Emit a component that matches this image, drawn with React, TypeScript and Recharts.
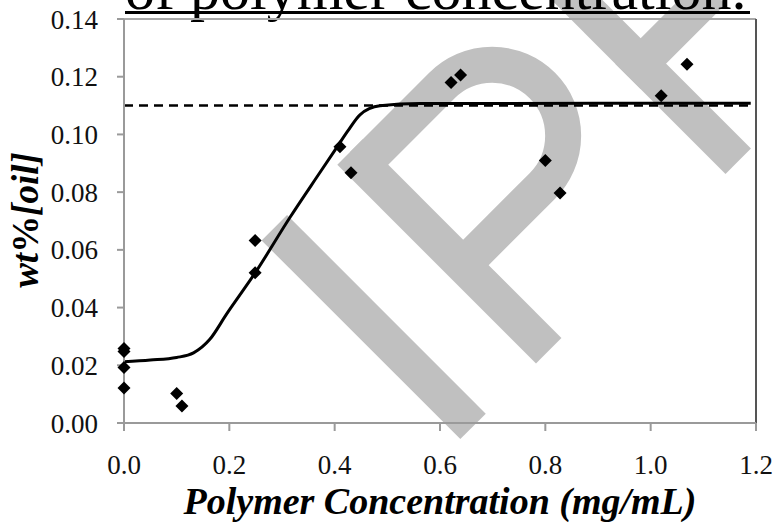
import React from "react";
import {
  ComposedChart,
  Scatter,
  Line,
  XAxis,
  YAxis,
  ReferenceLine,
  Label,
} from "recharts";

// ---- Data ----
const xTicks = [0, 0.2, 0.4, 0.6, 0.8, 1.0, 1.2];
const yTicks = [0, 0.02, 0.04, 0.06, 0.08, 0.1, 0.12, 0.14];

// measured points (polymer conc, wt% oil)
const measured = [
  { x: 0, y: 0.0258 },
  { x: 0, y: 0.0248 },
  { x: 0, y: 0.0192 },
  { x: 0, y: 0.0121 },
  { x: 0.1, y: 0.0102 },
  { x: 0.11, y: 0.0059 },
  { x: 0.249, y: 0.0632 },
  { x: 0.249, y: 0.0521 },
  { x: 0.41, y: 0.0957 },
  { x: 0.431, y: 0.0867 },
  { x: 0.621, y: 0.118 },
  { x: 0.639, y: 0.1206 },
  { x: 0.8, y: 0.091 },
  { x: 0.828, y: 0.0797 },
  { x: 1.02, y: 0.1134 },
  { x: 1.069, y: 0.1243 },
];

// fitted curve
const fitCurve = [
  { x: 0, y: 0.0212 },
  { x: 0.05, y: 0.0218 },
  { x: 0.1, y: 0.0227 },
  { x: 0.132, y: 0.0243 },
  { x: 0.163, y: 0.029 },
  { x: 0.195, y: 0.0378 },
  { x: 0.249, y: 0.052 },
  { x: 0.315, y: 0.0712 },
  { x: 0.372, y: 0.0868 },
  { x: 0.404, y: 0.0955 },
  { x: 0.425, y: 0.1012 },
  { x: 0.448, y: 0.1068 },
  { x: 0.486, y: 0.1099 },
  { x: 0.562, y: 0.1107 },
  { x: 1.19, y: 0.1108 },
];

// saturation level (dashed)
const plateau = [
  { x: 0, y: 0.11 },
  { x: 1.19, y: 0.11 },
];

const FONT = "'Liberation Serif', 'Times New Roman', serif";

const Diamond = (props: any) => {
  const { cx, cy } = props;
  const r = 6.5;
  return (
    <polygon
      points={`${cx},${cy - r} ${cx + r},${cy} ${cx},${cy + r} ${cx - r},${cy}`}
      fill="#000"
    />
  );
};

const YTitle = (props: any) => {
  const { viewBox } = props;
  const cx = 25;
  const cy = viewBox.y + viewBox.height / 2 - 1;
  return (
    <text
      x={cx}
      y={cy}
      transform={`rotate(-90, ${cx}, ${cy})`}
      textAnchor="middle"
      dominantBaseline="central"
      fontFamily={FONT}
      fontWeight="bold"
      fontSize={37}
      fill="#000"
    >
      <tspan fontStyle="italic">wt</tspan>
      <tspan>%</tspan>
      <tspan fontStyle="italic">[oil]</tspan>
    </text>
  );
};

export default function App() {
  return (
    <div
      style={{
        position: "absolute",
        left: 0,
        top: 0,
        width: 776,
        height: 524,
        background: "#fff",
        overflow: "hidden",
        fontFamily: FONT,
      }}
    >
      {/* watermark, behind the chart */}
      <svg
        width={776}
        height={524}
        style={{ position: "absolute", left: 0, top: 0 }}
      >
        <g transform="rotate(-45)" fill="#c0c0c0">
          {/* I */}
          <rect x={15} y={355} width={36} height={281} />
          {/* P */}
          <rect x={122} y={355} width={36} height={281} />
          <path
            d="M140,373 H252 A71,71 0 0 1 252,515 H140"
            fill="none"
            stroke="#c0c0c0"
            strokeWidth={36}
          />
          {/* F */}
          <rect x={390} y={355} width={36} height={281} />
          <rect x={390} y={355} width={150} height={36} />
          <rect x={390} y={480} width={120} height={36} />
        </g>
      </svg>

      {/* cut-off slide title */}
      <div
        style={{
          position: "absolute",
          left: 125,
          top: -37,
          fontSize: 60,
          lineHeight: "52px",
          whiteSpace: "nowrap",
          color: "#000",
        }}
      >
        of polymer concentration.
      </div>
      <div
        style={{
          position: "absolute",
          left: 125,
          top: 11,
          width: 625,
          height: 3,
          background: "#000",
        }}
      />

      <div style={{ position: "absolute", left: 0, top: 0 }}>
        <ComposedChart
          width={776}
          height={524}
          margin={{ top: 19, right: 20, left: 24, bottom: 41 }}
        >
          <XAxis
            type="number"
            dataKey="x"
            domain={[0, 1.2]}
            ticks={xTicks}
            tickFormatter={(v: number) => v.toFixed(1)}
            tick={{ fontSize: 27, fill: "#111", fontFamily: FONT }}
            tickSize={8}
            tickMargin={24}
            stroke="#9a9a9a"
            strokeWidth={2}
            height={60}
          >
            <Label
              value="Polymer Concentration (mg/mL)"
              position="bottom"
              offset={4}
              style={{
                fontSize: 38,
                fontWeight: "bold",
                fontStyle: "italic",
                fontFamily: FONT,
                fill: "#000",
              }}
            />
          </XAxis>
          <YAxis
            type="number"
            dataKey="y"
            domain={[0, 0.14]}
            ticks={yTicks}
            tickFormatter={(v: number) => v.toFixed(2)}
            tick={{ fontSize: 27, fill: "#111", fontFamily: FONT }}
            tickSize={7}
            tickMargin={19}
            stroke="#9a9a9a"
            strokeWidth={2}
            width={100}
          >
            <Label content={<YTitle />} />
          </YAxis>

          {/* plot frame, top and right */}
          <ReferenceLine y={0.14} stroke="#a8a8a8" strokeWidth={2} />
          <ReferenceLine x={1.2} stroke="#555" strokeWidth={2} />

          <Line
            data={plateau}
            dataKey="y"
            type="linear"
            stroke="#000"
            strokeWidth={2.5}
            strokeDasharray="9 6"
            dot={false}
            activeDot={false}
            isAnimationActive={false}
          />
          <Line
            data={fitCurve}
            dataKey="y"
            type="monotone"
            stroke="#000"
            strokeWidth={3}
            dot={false}
            activeDot={false}
            isAnimationActive={false}
          />
          <Scatter
            data={measured}
            dataKey="y"
            shape={<Diamond />}
            isAnimationActive={false}
          />
        </ComposedChart>
      </div>
    </div>
  );
}
